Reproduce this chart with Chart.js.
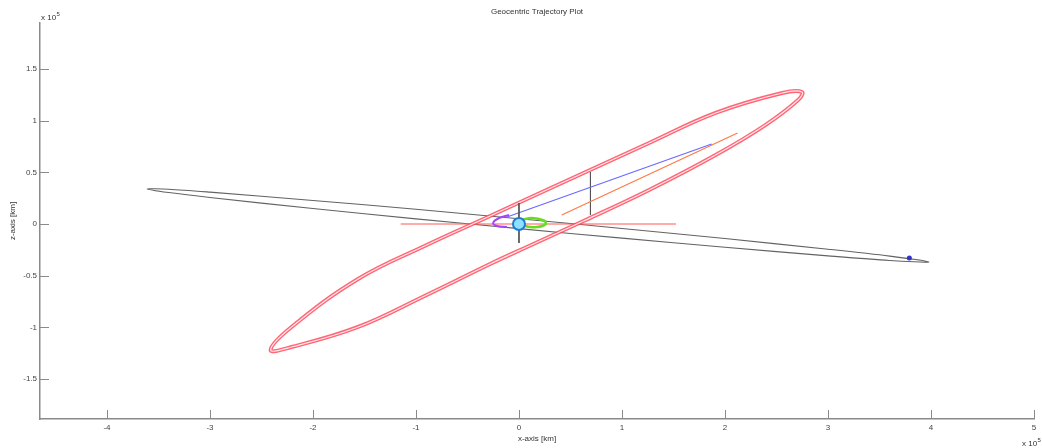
<!DOCTYPE html>
<html>
<head>
<meta charset="utf-8">
<script src="https://cdn.jsdelivr.net/npm/chart.js@4.4.0/dist/chart.umd.min.js"></script>
<style>
  html, body { margin: 0; padding: 0; background: #fff; }
  #wrap { width: 1042px; height: 448px; }
</style>
</head>
<body>
<div id="wrap"><canvas id="chart" width="1042" height="448"></canvas></div>
<script>
// values in units of 1e5 km
var xTicks = [-4, -3, -2, -1, 0, 1, 2, 3, 4, 5];
var zTicks = [-1.5, -1, -0.5, 0, 0.5, 1, 1.5];

// grey (moon) orbit
var moonOrbitX = [0, 1, 2, 3, 3.6, 3.98, 3.6, 3, 2, 1, 0, -1, -2, -3, -3.4, -3.61, -3.4, -3, -2, -1, 0];
var moonOrbitZ = [0.051, -0.043, -0.141, -0.244, -0.311, -0.367, -0.353, -0.308, -0.225, -0.137, -0.045, 0.050, 0.150, 0.256, 0.304, 0.339, 0.336, 0.308, 0.228, 0.142, 0.051];

// red transfer orbits
var transferX = [0.077, 0.627, 1.263, 1.909, 2.555, 2.748, 2.710, 2.392, 1.909, 1.263, 0.627, 0.077, -0.280, -0.916, -1.562, -2.208, -2.411, -2.208, -1.562, -0.916, -0.280, 0.077];
var transferZ = [0.242, 0.493, 0.783, 1.074, 1.267, 1.277, 1.199, 0.957, 0.667, 0.329, 0.029, -0.222, -0.387, -0.696, -0.996, -1.190, -1.219, -0.996, -0.532, -0.213, 0.077, 0.242];

var blueX = [-0.116, 1.871];
var blueZ = [0.068, 0.774];
var orangeX = [0.415, 2.122];
var orangeZ = [0.087, 0.880];
var redLineX = [-1.148, 1.524];
var redLineZ = [0.0, 0.0];
var stemAX = [0, 0];
var stemAZ = [0.203, -0.184];
var stemBX = [0.694, 0.694];
var stemBZ = [0.503, 0.087];
var purpleX = [-0.096, -0.193, -0.251, -0.212, -0.116];
var purpleZ = [0.087, 0.058, 0.010, -0.019, -0.029];
var greenX = [0.029, 0.125, 0.241, 0.260, 0.174, 0.058, 0.029];
var greenZ = [0.040, 0.058, 0.034, 0.0, -0.029, -0.019, 0.040];
var earthX = [0];
var earthZ = [0];
var moonX = [3.79];
var moonZ = [-0.33];

function pts(xs, zs) {
  var out = [];
  for (var i = 0; i < xs.length; i++) {
    out.push({ x: xs[i], y: zs[i] });
  }
  return out;
}

function line(xs, zs, color, width, order, tension) {
  return {
    data: pts(xs, zs),
    showLine: true,
    borderColor: color,
    borderWidth: width,
    pointRadius: 0,
    tension: tension || 0,
    order: order
  };
}

var FONT = 'Liberation Sans, Arial, sans-serif';

// MATLAB-ish decorations: inward ticks, title, exponent labels
var decor = {
  id: 'decor',
  afterDraw: function (chart) {
    var ctx = chart.ctx;
    var area = chart.chartArea;
    var xs = chart.scales.x, ys = chart.scales.y;
    ctx.save();
    ctx.strokeStyle = '#8a8a8a';
    ctx.lineWidth = 1;
    xTicks.forEach(function (v) {
      var px = Math.round(xs.getPixelForValue(v)) + 0.5;
      ctx.beginPath();
      ctx.moveTo(px, area.bottom);
      ctx.lineTo(px, area.bottom - 9);
      ctx.stroke();
    });
    zTicks.forEach(function (v) {
      var py = Math.round(ys.getPixelForValue(v)) + 0.5;
      ctx.beginPath();
      ctx.moveTo(area.left, py);
      ctx.lineTo(area.left + 9, py);
      ctx.stroke();
    });

    ctx.fillStyle = '#333';
    ctx.font = '8px ' + FONT;
    ctx.textAlign = 'center';
    ctx.textBaseline = 'middle';
    ctx.fillText('Geocentric Trajectory Plot', (area.left + area.right) / 2, 12);

    ctx.textAlign = 'left';
    ctx.textBaseline = 'alphabetic';
    ctx.fillText('x 10', 41, 20);
    var w = ctx.measureText('x 10').width;
    ctx.font = '6px ' + FONT;
    ctx.fillText('5', 41 + w + 0.5, 16);

    ctx.font = '8px ' + FONT;
    ctx.fillText('x 10', 1022, 446);
    ctx.font = '6px ' + FONT;
    ctx.fillText('5', 1022 + w + 0.5, 442);
    ctx.restore();
  }
};

var datasets = [
  { data: pts(earthX, earthZ), pointRadius: 6, pointBorderWidth: 2, pointBorderColor: '#1f7ad6', pointBackgroundColor: '#8fe0ff', order: 0 },
  { data: pts(moonX, moonZ), pointRadius: 2.5, pointBorderWidth: 0, pointBackgroundColor: '#3232c8', order: 1 },
  line(stemAX, stemAZ, '#555555', 1, 2),
  line(purpleX, purpleZ, '#a545ff', 2, 3, 0.4),
  line(greenX, greenZ, '#66dd22', 2.5, 4, 0.4),
  line(blueX, blueZ, '#6a6aff', 1.2, 5),
  line(orangeX, orangeZ, '#ff7a48', 1.2, 6),
  line(stemBX, stemBZ, '#555555', 1, 7),
  line(transferX, transferZ, 'rgba(255,238,238,0.95)', 1.2, 8, 0.4),
  line(transferX, transferZ, 'rgba(255,75,95,0.85)', 4, 9, 0.4),
  line(redLineX, redLineZ, '#ff5a55', 1.2, 10),
  line(moonOrbitX, moonOrbitZ, '#636363', 1.1, 11, 0.3)
];

var chart = new Chart(document.getElementById('chart').getContext('2d'), {
  type: 'scatter',
  data: { datasets: datasets },
  options: {
    responsive: false,
    animation: false,
    layout: { padding: { top: 23, right: 2, left: 0, bottom: 0 } },
    plugins: {
      legend: { display: false },
      tooltip: { enabled: false },
      title: { display: false }
    },
    scales: {
      x: {
        type: 'linear',
        min: -4.65,
        max: 5,
        grid: { display: false, drawTicks: false },
        border: { display: true, color: '#8a8a8a', width: 1.5 },
        afterBuildTicks: function (scale) {
          scale.ticks = xTicks.map(function (v) { return { value: v }; });
        },
        afterFit: function (scale) { scale.height = 29; },
        ticks: {
          color: '#444', font: { family: FONT, size: 8 }, padding: 4, maxRotation: 0, autoSkip: false,
          callback: function (v) { return String(v); }
        },
        title: { display: true, text: 'x-axis [km]', color: '#333', font: { family: FONT, size: 8 }, padding: { top: 0, bottom: 4 } }
      },
      y: {
        type: 'linear',
        min: -1.886,
        max: 1.944,
        grid: { display: false, drawTicks: false },
        border: { display: true, color: '#8a8a8a', width: 1.5 },
        afterBuildTicks: function (scale) {
          scale.ticks = zTicks.map(function (v) { return { value: v }; });
        },
        afterFit: function (scale) { scale.width = 40; },
        ticks: {
          color: '#444', font: { family: FONT, size: 8 }, padding: 3, autoSkip: false,
          callback: function (v) { return String(v); }
        },
        title: { display: true, text: 'z-axis [km]', color: '#333', font: { family: FONT, size: 8 }, padding: { top: 8, bottom: 0 } }
      }
    }
  },
  plugins: [decor]
});
</script>
</body>
</html>
